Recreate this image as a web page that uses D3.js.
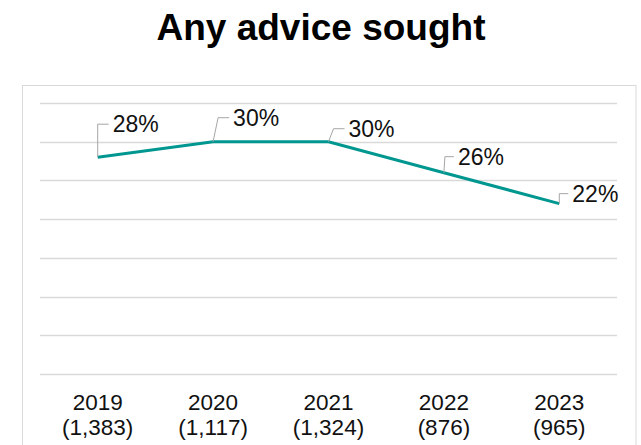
<!DOCTYPE html>
<html>
<head>
    <meta charset="utf-8">
    <title>Any advice sought</title>
    <script src="https://d3js.org/d3.v7.min.js"></script>
    <style>
        body { margin: 0; background: #fff; }
        svg { display: block; font-family: "Liberation Sans", Arial, sans-serif; }
    </style>
</head>
<body>
<div id="chart"></div>
<script type="text/javascript">
    // data
    let years = ["2019", "2020", "2021", "2022", "2023"];
    let bases = ["(1,383)", "(1,117)", "(1,324)", "(876)", "(965)"];
    let values = [28, 30, 30, 26, 22];
    let yTicks = [0, 5, 10, 15, 20, 25, 30, 35];

    // hand-placed label offsets (like the original's moved labels)
    let labelPos = [
        {dx: 15, dy: -25, lx: 0},
        {dx: 20, dy: -16, lx: 5},
        {dx: 20, dy: -5, lx: 5},
        {dx: 14, dy: -8, lx: 1},
        {dx: 13, dy: -2, lx: 0}
    ];

    let width = 641, height = 445;
    let plot = {left: 40, right: 617, top: 103, bottom: 374};

    let svg = d3.select("#chart")
        .append("svg")
        .attr("width", width)
        .attr("height", height);

    // outer frame
    svg.append("rect")
        .attr("x", 22.5)
        .attr("y", 85.5)
        .attr("width", 613.5)
        .attr("height", 400)
        .attr("fill", "none")
        .attr("stroke", "#d9d9d9")
        .attr("stroke-width", 1);

    svg.append("text")
        .attr("x", 321)
        .attr("y", 40)
        .attr("text-anchor", "middle")
        .attr("font-size", "37px")
        .attr("font-weight", "bold")
        .attr("fill", "#000")
        .text("Any advice sought");

    let x = d3.scaleBand()
        .domain(years)
        .range([plot.left, plot.right]);

    let y = d3.scaleLinear()
        .domain([0, 35])
        .range([plot.bottom, plot.top]);

    // gridlines
    svg.append("g")
        .selectAll("line")
        .data(yTicks)
        .enter()
        .append("line")
        .attr("x1", plot.left)
        .attr("x2", plot.right)
        .attr("y1", d => Math.round(y(d)) + 0.5)
        .attr("y2", d => Math.round(y(d)) + 0.5)
        .attr("stroke", "#d9d9d9")
        .attr("stroke-width", 1.3);

    let cx = d => x(d) + x.bandwidth() / 2;

    // x labels, two lines
    let xl = svg.append("g")
        .selectAll("text")
        .data(years)
        .enter()
        .append("text")
        .attr("text-anchor", "middle")
        .attr("font-size", "22.5px")
        .attr("fill", "#111");
    xl.append("tspan")
        .attr("x", d => cx(d))
        .attr("y", 410)
        .text(d => d);
    xl.append("tspan")
        .attr("x", d => cx(d))
        .attr("y", 435)
        .text((d, i) => bases[i]);

    // the line
    let line = d3.line()
        .x((d, i) => cx(years[i]))
        .y(d => y(d));

    svg.append("path")
        .datum(values)
        .attr("d", line)
        .attr("fill", "none")
        .attr("stroke", "#009790")
        .attr("stroke-width", 3);

    // leader lines + labels
    let lab = svg.append("g")
        .selectAll("g")
        .data(values)
        .enter()
        .append("g");

    lab.append("polyline")
        .attr("points", (d, i) => {
            let px = cx(years[i]), py = y(d), p = labelPos[i];
            let ly = py + p.dy - 8;
            return [[px, py], [px + p.lx, ly], [px + p.dx - 4, ly]].join(" ");
        })
        .attr("fill", "none")
        .attr("stroke", "#a6a6a6")
        .attr("stroke-width", 1);

    lab.append("text")
        .attr("x", (d, i) => cx(years[i]) + labelPos[i].dx)
        .attr("y", (d, i) => y(d) + labelPos[i].dy)
        .attr("font-size", "23px")
        .attr("fill", "#111")
        .text(d => d + "%");
</script>
</body>
</html>
